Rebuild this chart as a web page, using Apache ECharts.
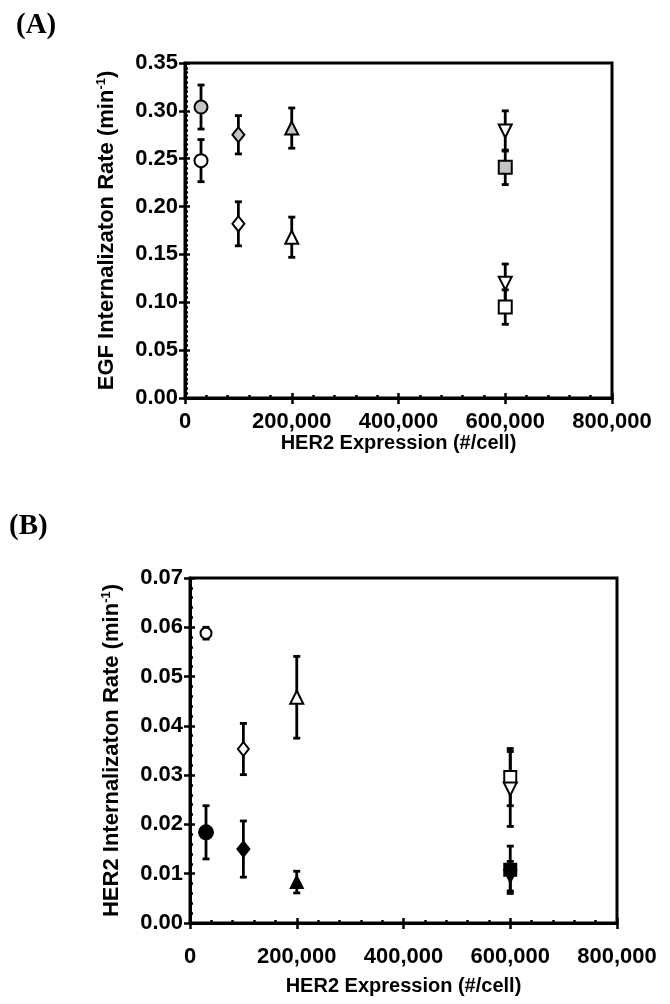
<!DOCTYPE html>
<html><head><meta charset="utf-8">
<script src="https://cdn.jsdelivr.net/npm/echarts@6/dist/echarts.min.js"></script>
<style>html,body{margin:0;padding:0;background:#fff}#c{width:670px;height:1004px}</style>
</head><body><div id="c"></div>
<script>
// ---- Data: [HER2 expression (#/cell), rate (min^-1), error] ----
// Panel A: EGF internalization rate
const aCircleGray   = [[30000, 0.304, 0.023]];
const aCircleOpen   = [[30000, 0.248, 0.022]];
const aDiamondGray  = [[100000, 0.275, 0.020]];
const aDiamondOpen  = [[100000, 0.182, 0.023]];
const aTriGray      = [[200000, 0.282, 0.021]];
const aTriOpen      = [[200000, 0.168, 0.021]];
const aTriDownUpper = [[600000, 0.279, 0.021]];
const aSquareGray   = [[600000, 0.241, 0.018]];
const aTriDownLower = [[600000, 0.120, 0.020]];
const aSquareOpen   = [[600000, 0.095, 0.018]];
// Panel B: HER2 internalization rate
const bCircleOpen    = [[30000, 0.0588, 0.0012]];
const bDiamondOpen   = [[100000, 0.0353, 0.0052]];
const bTriOpen       = [[200000, 0.0458, 0.0083]];
const bSquareOpen    = [[600000, 0.0296, 0.0058]];
const bTriDownOpen   = [[600000, 0.0272, 0.0076]];
const bCircleBlack   = [[30000, 0.0184, 0.0054]];
const bDiamondBlack  = [[100000, 0.0150, 0.0057]];
const bTriBlack      = [[200000, 0.0083, 0.0022]];
const bSquareBlack   = [[600000, 0.0108, 0.0048]];
const bTriDownBlack  = [[600000, 0.0095, 0.0030]];
// Axes / tick labels
const xTicks = [0, 200000, 400000, 600000, 800000];
const xTickLabels = ['0', '200,000', '400,000', '600,000', '800,000'];
const aYTickLabels = ['0.00','0.05','0.10','0.15','0.20','0.25','0.30','0.35'];
const bYTickLabels = ['0.00','0.01','0.02','0.03','0.04','0.05','0.06','0.07'];
const xName = 'HER2 Expression (#/cell)';
const aYName = 'EGF Internalizaton Rate (min';
const bYName = 'HER2 Internalizaton Rate (min';

const FONT = "'Liberation Sans', Arial, Helvetica, sans-serif";
const SERIF = "'Liberation Serif', 'Times New Roman', serif";
const GRAY = '#c4c4c4';
const txt = {fontFamily: FONT, fontWeight: 'bold', color: '#000'};

function xLabel(v){ const i = xTicks.indexOf(v); return i >= 0 ? xTickLabels[i] : ''; }

function makeXAxes(grid, labelMargin, nameGap){
  return [{
    type:'value', gridIndex:grid, min:0, max:800000, interval:200000, position:'bottom',
    axisLine:{show:true, onZero:false, lineStyle:{color:'#000', width:3}},
    axisTick:{show:true, length:6, lineStyle:{color:'#000', width:2.5}},
    minorTick:{show:false},
    splitLine:{show:false},
    axisLabel:Object.assign({fontSize:22, margin:labelMargin, formatter:xLabel}, txt),
    name:xName, nameLocation:'middle', nameGap:nameGap,
    nameTextStyle:Object.assign({fontSize:20}, txt)
  },{
    type:'value', gridIndex:grid, min:0, max:800000, interval:200000, position:'bottom',
    axisLine:{show:false, onZero:false},
    axisTick:{show:true, inside:true, length:5, lineStyle:{color:'#000', width:2.5}},
    minorTick:{show:true, splitNumber:5, length:3, lineStyle:{color:'#000', width:2.5}},
    splitLine:{show:false}, axisLabel:{show:false}
  }];
}
function makeYAxes(grid, max, interval, labels, name, minorSplit, nameGap){
  return [{
    type:'value', gridIndex:grid, min:0, max:max, interval:interval, position:'left',
    axisLine:{show:true, onZero:false, lineStyle:{color:'#000', width:3}},
    axisTick:{show:true, length:6, lineStyle:{color:'#000', width:2.5}},
    splitLine:{show:false},
    axisLabel:Object.assign({fontSize:22, margin:7, formatter:function(v){
      const i = Math.round(v/interval); return labels[i] || ''; }}, txt),
    name:'{n|' + name + '}{s|-1}{n|)}', nameLocation:'middle', nameGap:nameGap,
    nameTextStyle:Object.assign({fontSize:22, rich:{
      n:Object.assign({fontSize:22}, txt),
      s:Object.assign({fontSize:13, verticalAlign:'top', padding:[0,0,11,0]}, txt)
    }}, txt)
  },{
    type:'value', gridIndex:grid, min:0, max:max, interval:interval, position:'left',
    axisLine:{show:false, onZero:false},
    axisTick:{show:true, inside:true, length:5, lineStyle:{color:'#000', width:2.5}},
    minorTick:{show:true, splitNumber:minorSplit, length:3, lineStyle:{color:'#000', width:2.5}},
    splitLine:{show:false}, axisLabel:{show:false}
  }];
}

function scatter(data, xi, yi, symbol, size, color, rotate){
  return {
    type:'scatter', xAxisIndex:xi, yAxisIndex:yi, z:5,
    symbol:symbol, symbolSize:size, symbolRotate:rotate||0,
    itemStyle:{color:color, borderColor:'#000', borderWidth:2, opacity:1},
    data:data.map(d => [d[0], d[1]]), silent:true
  };
}
function errBars(data, xi, yi){
  return {
    type:'custom', xAxisIndex:xi, yAxisIndex:yi, z:3, silent:true,
    data:data,
    renderItem:function(params, api){
      const x = api.value(0), y = api.value(1), e = api.value(2);
      const t = api.coord([x, y+e]), b = api.coord([x, y-e]);
      const w = 3.5, st = {stroke:'#000', lineWidth:2.8};
      return {type:'group', children:[
        {type:'line', shape:{x1:t[0], y1:t[1], x2:b[0], y2:b[1]}, style:st},
        {type:'line', shape:{x1:t[0]-w, y1:t[1], x2:t[0]+w, y2:t[1]}, style:st},
        {type:'line', shape:{x1:b[0]-w, y1:b[1], x2:b[0]+w, y2:b[1]}, style:st}
      ]};
    }
  };
}

const allA = [].concat(aCircleGray, aCircleOpen, aDiamondGray, aDiamondOpen, aTriGray, aTriOpen,
  aTriDownUpper, aSquareGray, aTriDownLower, aSquareOpen);
const allB = [].concat(bCircleOpen, bDiamondOpen, bTriOpen, bSquareOpen, bTriDownOpen,
  bCircleBlack, bDiamondBlack, bTriBlack, bSquareBlack, bTriDownBlack);

const chart = echarts.init(document.getElementById('c'), null, {renderer:'canvas'});
chart.setOption({
  animation:false,
  backgroundColor:'#fff',
  title:[
    {text:'(A)', left:11, top:6, textStyle:{fontFamily:SERIF, fontWeight:'bold', fontSize:29, color:'#000'}},
    {text:'(B)', left:4, top:507, textStyle:{fontFamily:SERIF, fontWeight:'bold', fontSize:29, color:'#000'}}
  ],
  grid:[
    {left:185, top:63, width:427, height:335, show:true, borderColor:'#000', borderWidth:3, backgroundColor:'transparent'},
    {left:190, top:578, width:427, height:345, show:true, borderColor:'#000', borderWidth:3, backgroundColor:'transparent'}
  ],
  xAxis:[].concat(makeXAxes(0, 13, 32), makeXAxes(1, 23, 53)),
  yAxis:[].concat(makeYAxes(0, 0.35, 0.05, aYTickLabels, aYName, 10, 66),
                  makeYAxes(1, 0.07, 0.01, bYTickLabels, bYName, 5, 66)),
  series:[
    errBars(allA, 0, 0),
    scatter(aCircleGray, 0, 0, 'circle', 13, GRAY),
    scatter(aCircleOpen, 0, 0, 'circle', 13, '#fff'),
    scatter(aDiamondGray, 0, 0, 'diamond', [12,15], GRAY),
    scatter(aDiamondOpen, 0, 0, 'diamond', [12,15], '#fff'),
    scatter(aTriGray, 0, 0, 'triangle', [13,13], GRAY),
    scatter(aTriOpen, 0, 0, 'triangle', [13,13], '#fff'),
    scatter(aTriDownUpper, 0, 0, 'triangle', [13,13], '#fff', 180),
    scatter(aSquareGray, 0, 0, 'rect', 13, GRAY),
    scatter(aTriDownLower, 0, 0, 'triangle', [13,13], '#fff', 180),
    scatter(aSquareOpen, 0, 0, 'rect', 13, '#fff'),
    errBars(allB, 2, 2),
    scatter(bCircleOpen, 2, 2, 'circle', 11, '#fff'),
    scatter(bDiamondOpen, 2, 2, 'diamond', [11,14], '#fff'),
    scatter(bTriOpen, 2, 2, 'triangle', [13,13], '#fff'),
    scatter(bSquareOpen, 2, 2, 'rect', 12, '#fff'),
    scatter(bTriDownOpen, 2, 2, 'triangle', [13,13], '#fff', 180),
    scatter(bCircleBlack, 2, 2, 'circle', 14, '#000'),
    scatter(bDiamondBlack, 2, 2, 'diamond', [12,15], '#000'),
    scatter(bTriBlack, 2, 2, 'triangle', [12,12], '#000'),
    scatter(bSquareBlack, 2, 2, 'rect', 12, '#000'),
    scatter(bTriDownBlack, 2, 2, 'triangle', [12,12], '#000', 180)
  ]
});
</script></body></html>
